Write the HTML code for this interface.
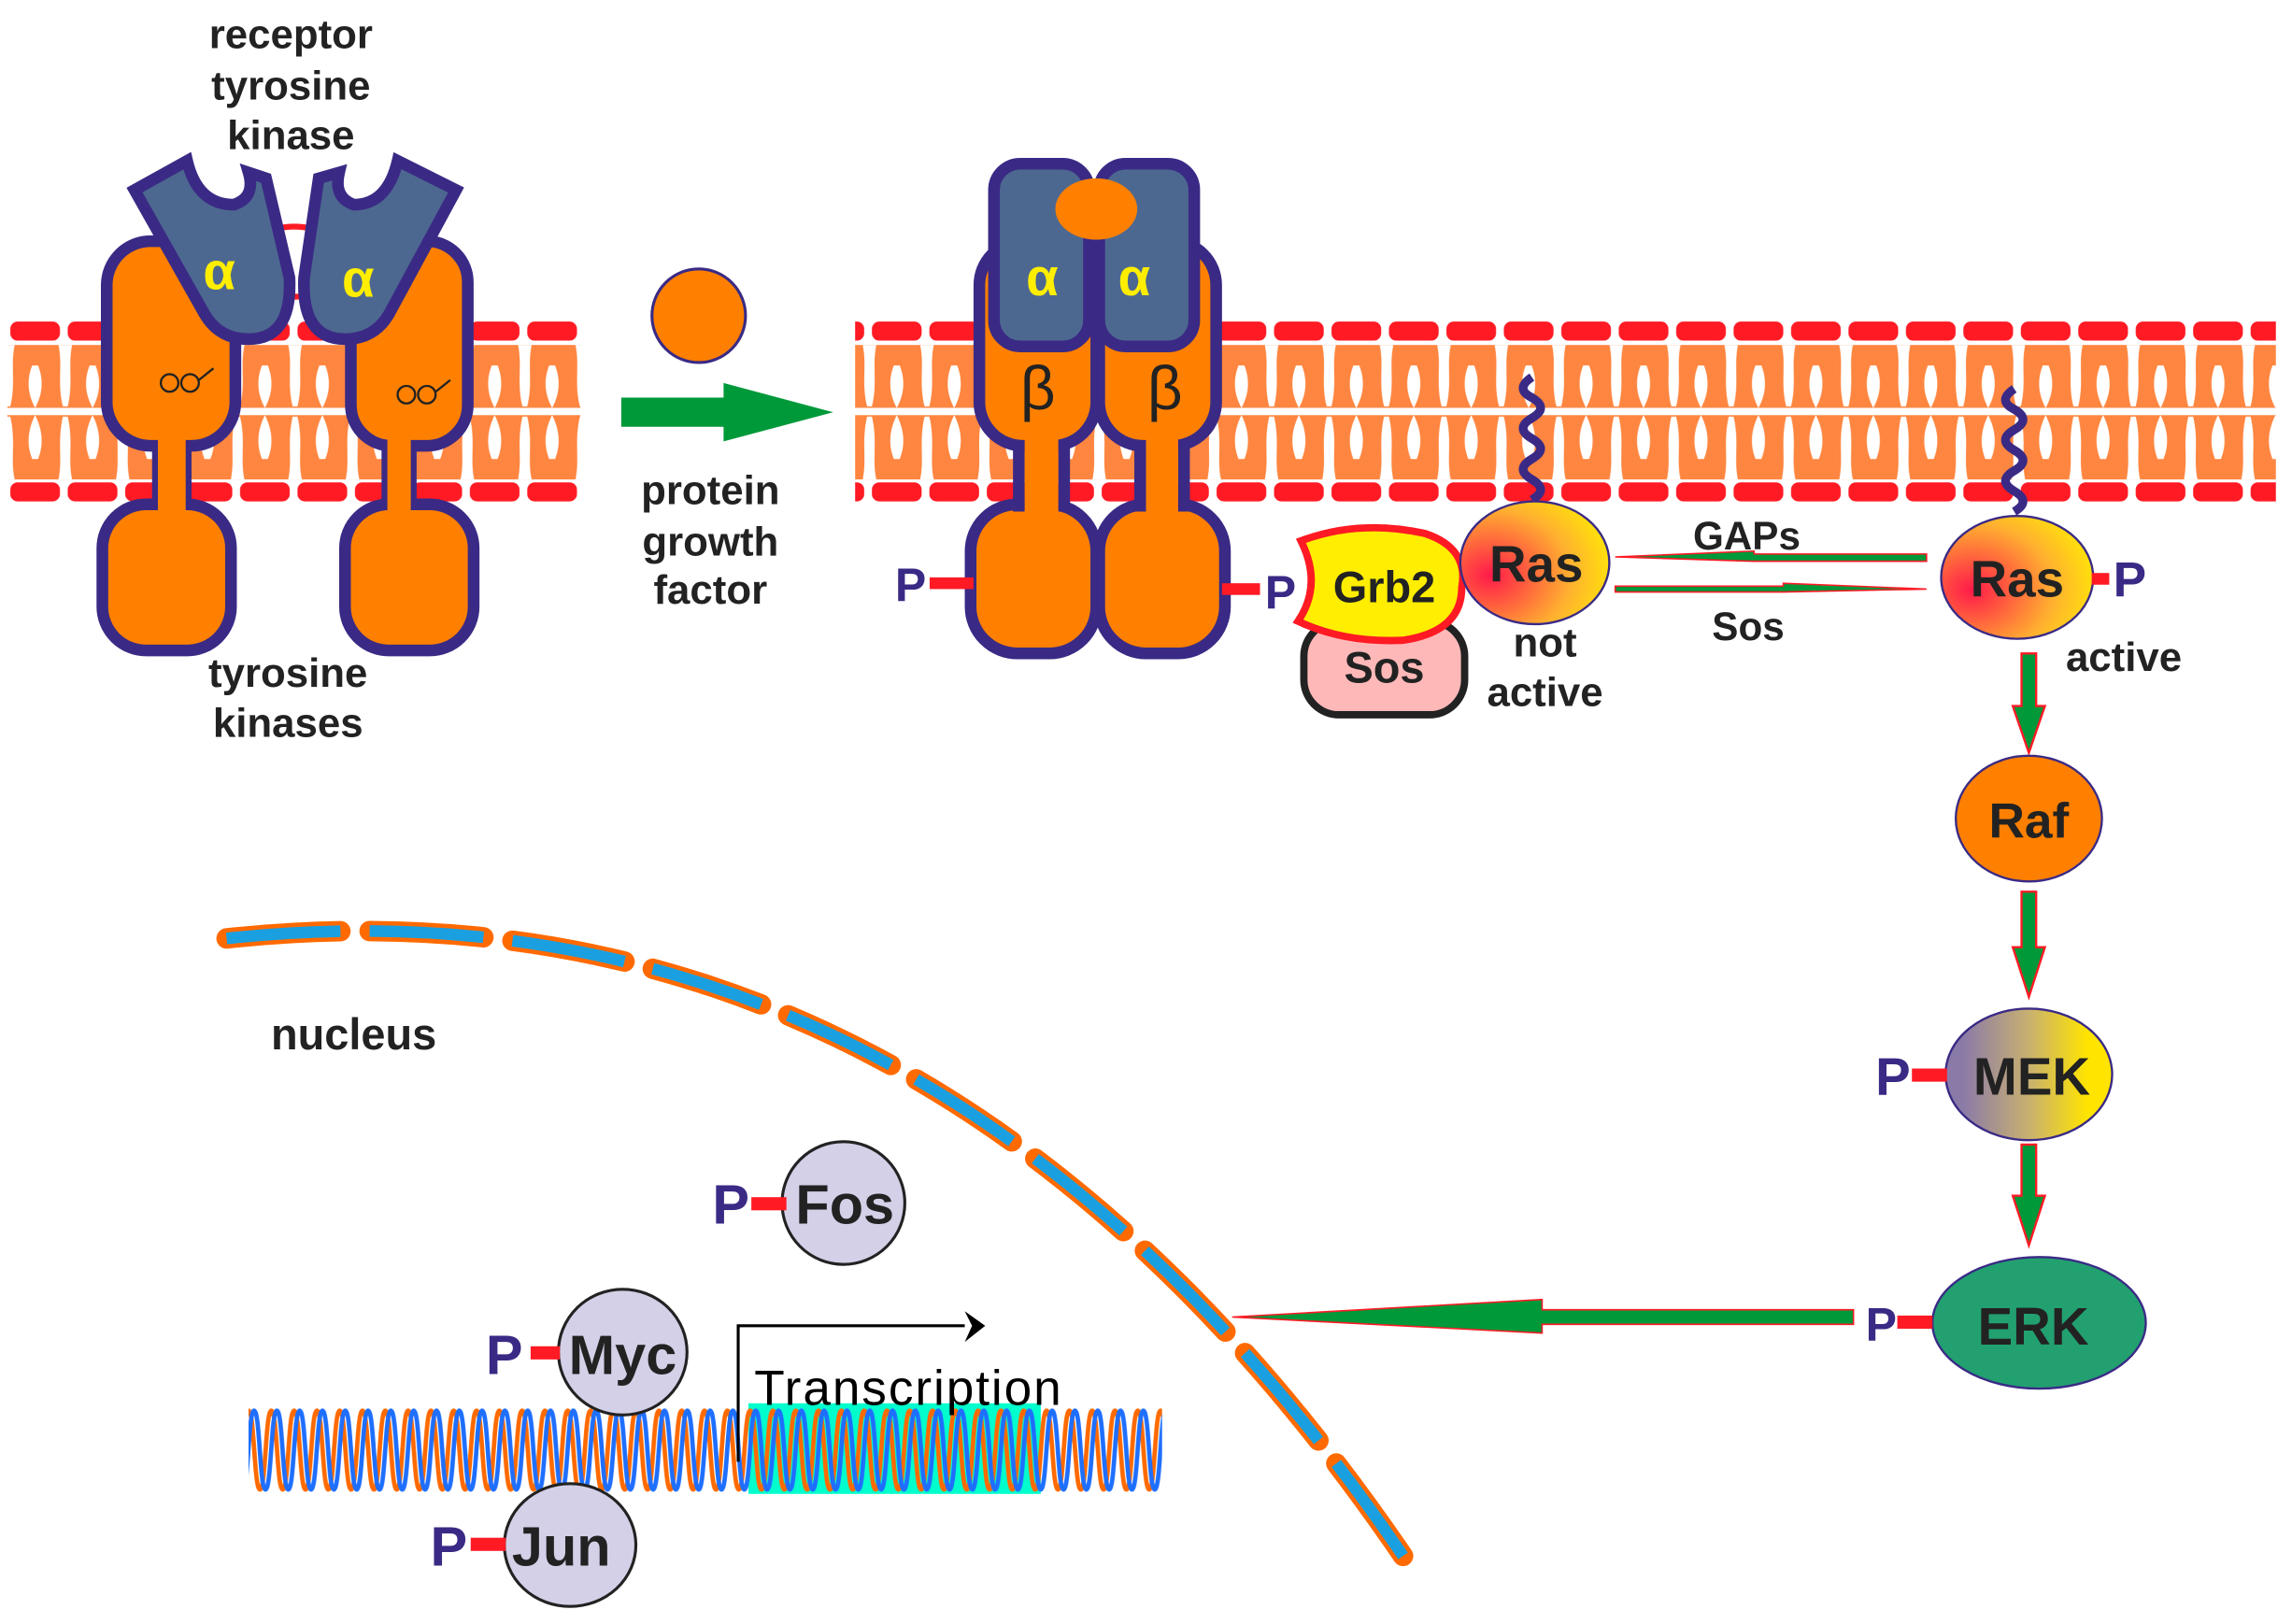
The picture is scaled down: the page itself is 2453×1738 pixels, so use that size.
<!DOCTYPE html>
<html><head><meta charset="utf-8"><style>
html,body{margin:0;padding:0;background:#fff}
svg{display:block}
text{font-family:"Liberation Sans",Arial,sans-serif;font-weight:bold}
</style></head><body>
<svg width="2453" height="1738" viewBox="0 0 1568 1111" xmlns="http://www.w3.org/2000/svg">
<defs>
<pattern id="lip" x="5" y="0" width="39.3" height="1111" patternUnits="userSpaceOnUse">
 <rect x="2" y="220" width="34" height="13" rx="5" fill="#ff1a24"/>
 <rect x="2" y="330" width="34" height="13" rx="5" fill="#ff1a24"/>
 <rect x="0" y="236" width="39.3" height="92" fill="#ff8640"/>
 <path d="M0,236 L5,236 C2,250 6,262 2,278 L0,278 Z M39.3,236 L35,236 C38,250 34,262 38,278 L39.3,278 Z" fill="#fff"/>
 <path d="M0,328 L5,328 C2,314 6,302 2,285 L0,285 Z M39.3,328 L35,328 C38,314 34,302 38,285 L39.3,285 Z" fill="#fff"/>
 <path d="M17,250 C13,260 14,270 19,279 C24,270 25,260 21,250 Z" fill="#fff"/>
 <path d="M17,314 C13,304 14,294 19,284 C24,294 25,304 21,314 Z" fill="#fff"/>
 <rect x="0" y="279" width="39.3" height="5" fill="#fff"/>
</pattern>
<pattern id="dna" x="170" y="962" width="15.6" height="60" patternUnits="userSpaceOnUse">
 <path d="M0,3 C4,3 3.8,57 7.8,57 C11.8,57 11.6,3 15.6,3" fill="none" stroke="#ff6a00" stroke-width="3"/>
 <path d="M-4,57 C0,57 -0.2,3 3.8,3 C7.8,3 7.6,57 11.6,57 C15.6,57 15.4,3 19.4,3" fill="none" stroke="#1f6fff" stroke-width="3"/>
</pattern>
<radialGradient id="rasg" cx="0.2" cy="0.6" r="0.9"><stop offset="0" stop-color="#ff1a4a"/><stop offset="0.6" stop-color="#ffb030"/><stop offset="1" stop-color="#fff000"/></radialGradient>
<linearGradient id="mekg" x1="0" x2="1"><stop offset="0.1" stop-color="#8a7aa8"/><stop offset="0.5" stop-color="#c8b070"/><stop offset="0.85" stop-color="#ffe400"/></linearGradient>
</defs>

<rect x="5" y="215" width="392" height="135" fill="url(#lip)"/>
<rect x="585" y="215" width="972" height="135" fill="url(#lip)"/>

<!-- left receptors -->
<g stroke="#3a2a85" stroke-width="8" fill="#ff8000">
 <rect x="73" y="165" width="88" height="140" rx="30"/>
 <rect x="70" y="345" width="88" height="100" rx="30"/>
 <rect x="240" y="165" width="80" height="140" rx="28"/>
 <rect x="236" y="345" width="88" height="100" rx="30"/>
</g>
<g stroke="#3a2a85" stroke-width="6">
 <line x1="107" y1="305" x2="107" y2="347"/><line x1="128" y1="305" x2="128" y2="347"/>
 <line x1="264" y1="305" x2="264" y2="347"/><line x1="282" y1="305" x2="282" y2="347"/>
</g>
<rect x="108" y="300" width="19" height="50" fill="#ff8000"/>
<rect x="265" y="300" width="16" height="50" fill="#ff8000"/>
<path d="M180,160 Q200,150 225,160 M180,200 Q200,206 225,200" stroke="#ff1a24" stroke-width="4" fill="none"/>
<g fill="#4d6890" stroke="#3a2a85" stroke-width="8">
 <path d="M92,130 L128,110 Q135,140 160,140 Q175,135 170,118 L182,122 L198,190 Q200,232 170,232 Q150,232 140,215 Z"/>
 <path d="M312,130 L272,110 Q265,140 242,140 Q228,135 232,118 L218,122 L208,190 Q206,232 236,232 Q256,232 266,215 Z"/>
</g>
<text x="150" y="198" font-size="36" fill="#ffee00" text-anchor="middle">α</text>
<text x="245" y="203" font-size="36" fill="#ffee00" text-anchor="middle">α</text>
<path d="M110,262 a6,6 0 1,0 12,0 a6,6 0 1,0 -12,0 M124,262 a6,6 0 1,0 12,0 a6,6 0 1,0 -12,0 M136,260 l10,-8" stroke="#222" stroke-width="1.5" fill="none"/>
<path d="M272,270 a6,6 0 1,0 12,0 a6,6 0 1,0 -12,0 M286,270 a6,6 0 1,0 12,0 a6,6 0 1,0 -12,0 M298,268 l10,-8" stroke="#222" stroke-width="1.5" fill="none"/>

<text x="199" y="33" font-size="28" fill="#222" text-anchor="middle">receptor</text>
<text x="199" y="68" font-size="28" fill="#222" text-anchor="middle">tyrosine</text>
<text x="199" y="102" font-size="28" fill="#222" text-anchor="middle">kinase</text>
<text x="197" y="470" font-size="28" fill="#222" text-anchor="middle">tyrosine</text>
<text x="197" y="504" font-size="28" fill="#222" text-anchor="middle">kinases</text>

<circle cx="478" cy="216" r="32" fill="#ff8000" stroke="#3a2a85" stroke-width="2"/>
<path d="M425,272 L495,272 L495,262 L570,282 L495,302 L495,292 L425,292 Z" fill="#00993a"/>
<text x="486" y="345" font-size="28" fill="#222" text-anchor="middle">protein</text>
<text x="486" y="380" font-size="28" fill="#222" text-anchor="middle">growth</text>
<text x="486" y="413" font-size="28" fill="#222" text-anchor="middle">factor</text>

<!-- right receptors -->
<g stroke="#3a2a85" stroke-width="8" fill="#ff8000">
 <rect x="670" y="165" width="80" height="140" rx="30"/>
 <rect x="752" y="165" width="80" height="140" rx="30"/>
 <rect x="664" y="345" width="86" height="102" rx="32"/>
 <rect x="752" y="345" width="86" height="102" rx="32"/>
</g>
<g stroke="#3a2a85" stroke-width="8"><line x1="697" y1="302" x2="697" y2="350"/><line x1="728" y1="302" x2="728" y2="350"/><line x1="780" y1="302" x2="780" y2="350"/><line x1="810" y1="302" x2="810" y2="350"/></g>
<rect x="701" y="296" width="23" height="56" fill="#ff8000"/>
<rect x="784" y="296" width="22" height="56" fill="#ff8000"/>
<g fill="#4d6890" stroke="#3a2a85" stroke-width="8">
 <rect x="680" y="112" width="65" height="125" rx="18"/>
 <rect x="752" y="112" width="65" height="125" rx="18"/>
</g>
<ellipse cx="750" cy="143" rx="28" ry="21" fill="#ff8000"/>
<text x="713" y="202" font-size="36" fill="#ffee00" text-anchor="middle">α</text>
<text x="776" y="202" font-size="36" fill="#ffee00" text-anchor="middle">α</text>
<text x="710" y="280" font-size="42" fill="#222" text-anchor="middle" style="font-weight:normal">β</text>
<text x="797" y="280" font-size="42" fill="#222" text-anchor="middle" style="font-weight:normal">β</text>
<rect x="636" y="395" width="30" height="8" fill="#ff1a24"/>
<text x="623" y="411" font-size="32" fill="#3a2a85" text-anchor="middle">P</text>
<rect x="836" y="399" width="26" height="8" fill="#ff1a24"/>
<text x="876" y="416" font-size="32" fill="#3a2a85" text-anchor="middle">P</text>

<rect x="892" y="425" width="110" height="64" rx="24" fill="#ffb8b8" stroke="#222" stroke-width="5"/>
<text x="947" y="467" font-size="30" fill="#222" text-anchor="middle">Sos</text>
<path d="M890,370 Q930,355 975,365 Q1005,375 1000,402 Q1000,432 960,438 Q920,440 888,425 Q905,400 890,370 Z" fill="#ffee00" stroke="#ff1a24" stroke-width="5"/>
<text x="947" y="412" font-size="30" fill="#222" text-anchor="middle">Grb2</text>

<path d="M1048,258 q-12,8 0,14 q12,7 0,14 q-12,7 0,14 q12,7 0,14 q-12,7 0,14 q12,7 0,14" stroke="#3a2a85" stroke-width="6" fill="none"/>
<ellipse cx="1050" cy="385" rx="51" ry="42" fill="url(#rasg)" stroke="#3a2a85" stroke-width="1.5"/>
<text x="1051" y="398" font-size="35" fill="#222" text-anchor="middle">Ras</text>
<text x="1057" y="449" font-size="28" fill="#222" text-anchor="middle">not</text>
<text x="1057" y="483" font-size="28" fill="#222" text-anchor="middle">active</text>

<path d="M1318,379 L1318,384 L1200,384 L1105,381 L1200,377 L1200,379 Z" fill="#00993a" stroke="#ff1a24" stroke-width="1"/>
<path d="M1105,401 L1105,405 L1220,405 L1318,403 L1220,399 L1220,401 Z" fill="#00993a" stroke="#ff1a24" stroke-width="1"/>
<text x="1195" y="376" font-size="27" fill="#222" text-anchor="middle">GAPs</text>
<text x="1196" y="438" font-size="27" fill="#222" text-anchor="middle">Sos</text>

<path d="M1378,266 q-12,8 0,14 q12,7 0,14 q-12,7 0,14 q12,7 0,14 q-12,7 0,14 q12,7 0,14" stroke="#3a2a85" stroke-width="6" fill="none"/>
<ellipse cx="1380" cy="395" rx="52" ry="42" fill="url(#rasg)" stroke="#3a2a85" stroke-width="1.5"/>
<text x="1380" y="408" font-size="35" fill="#222" text-anchor="middle">Ras</text>
<rect x="1431" y="392" width="12" height="8" fill="#ff1a24"/>
<text x="1457" y="408" font-size="34" fill="#3a2a85" text-anchor="middle">P</text>
<text x="1453" y="459" font-size="28" fill="#222" text-anchor="middle">active</text>

<g fill="#00993a" stroke="#ff1a24" stroke-width="1.5">
 <path d="M1383,447 L1393,447 L1393,483 L1399,483 L1388,515 L1377,483 L1383,483 Z"/>
 <path d="M1383,610 L1393,610 L1393,648 L1399,648 L1388,682 L1377,648 L1383,648 Z"/>
 <path d="M1383,783 L1393,783 L1393,818 L1399,818 L1388,852 L1377,818 L1383,818 Z"/>
</g>
<ellipse cx="1388" cy="560" rx="50" ry="43" fill="#ff8000" stroke="#3a2a85" stroke-width="1.5"/>
<text x="1388" y="573" font-size="34" fill="#222" text-anchor="middle">Raf</text>
<ellipse cx="1388" cy="735" rx="57" ry="45" fill="url(#mekg)" stroke="#3a2a85" stroke-width="1.5"/>
<text x="1390" y="749" font-size="36" fill="#222" text-anchor="middle">MEK</text>
<rect x="1308" y="731" width="24" height="9" fill="#ff1a24"/>
<text x="1295" y="749" font-size="36" fill="#3a2a85" text-anchor="middle">P</text>
<ellipse cx="1395" cy="905" rx="73" ry="45" fill="#22a070" stroke="#3a2a85" stroke-width="1.5"/>
<text x="1391" y="920" font-size="36" fill="#222" text-anchor="middle">ERK</text>
<rect x="1298" y="900" width="24" height="9" fill="#ff1a24"/>
<text x="1287" y="917" font-size="32" fill="#3a2a85" text-anchor="middle">P</text>

<path d="M1268,896 L1055,896 L1055,889 L843,901 L1055,912 L1055,906 L1268,906 Z" fill="#00993a" stroke="#ff1a24" stroke-width="1"/>

<path d="M155,642 Q640,590 965,1072" fill="none" stroke="#ff6a00" stroke-width="14" stroke-dasharray="78,20" stroke-linecap="round"/>
<path d="M155,642 Q640,590 965,1072" fill="none" stroke="#1aa0e0" stroke-width="8" stroke-dasharray="78,20"/>
<text x="242" y="718" font-size="30" fill="#222" text-anchor="middle">nucleus</text>

<rect x="512" y="960" width="200" height="62" fill="#00ffcc"/>
<rect x="170" y="962" width="625" height="60" fill="url(#dna)"/>
<path d="M505,1000 L505,907 L660,907" fill="none" stroke="#000" stroke-width="2"/>
<path d="M660,897 L674,907 L660,918 L665,907 Z" fill="#000"/>
<text x="516" y="961" font-size="34" fill="#000" textLength="210" style="font-weight:normal">Transcription</text>

<circle cx="577" cy="823" r="42" fill="#d4d0e8" stroke="#222" stroke-width="2"/>
<text x="578" y="837" font-size="38" fill="#222" text-anchor="middle">Fos</text>
<rect x="514" y="819" width="24" height="9" fill="#ff1a24"/>
<text x="500" y="837" font-size="38" fill="#3a2a85" text-anchor="middle">P</text>
<ellipse cx="426" cy="925" rx="44" ry="43" fill="#d4d0e8" stroke="#222" stroke-width="2"/>
<text x="426" y="940" font-size="38" fill="#222" text-anchor="middle">Myc</text>
<rect x="363" y="921" width="20" height="9" fill="#ff1a24"/>
<text x="345" y="940" font-size="38" fill="#3a2a85" text-anchor="middle">P</text>
<ellipse cx="390" cy="1057" rx="45" ry="42" fill="#d4d0e8" stroke="#222" stroke-width="2"/>
<text x="384" y="1071" font-size="38" fill="#222" text-anchor="middle">Jun</text>
<rect x="322" y="1052" width="24" height="9" fill="#ff1a24"/>
<text x="307" y="1071" font-size="38" fill="#3a2a85" text-anchor="middle">P</text>
</svg>
</body></html>
